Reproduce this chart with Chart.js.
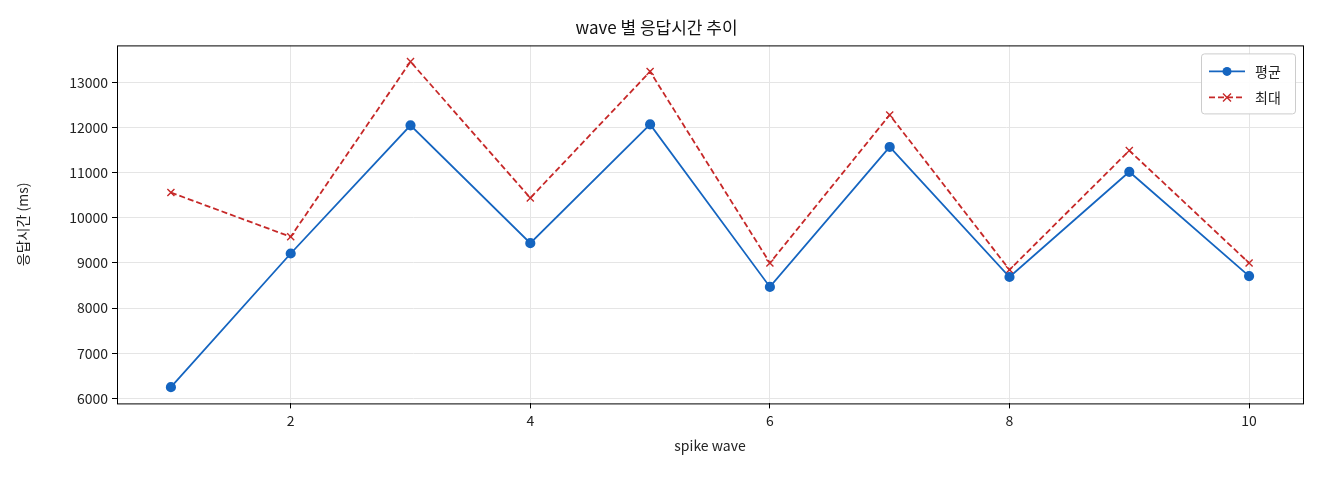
<!DOCTYPE html>
<html>
<head>
<meta charset="utf-8">
<script src="https://cdn.jsdelivr.net/npm/chart.js@4"></script>
<style>
  body { margin: 0; background: #fff; }
  #wrap { width: 1320px; height: 480px; }
</style>
</head>
<body>
<div id="wrap"><canvas id="c"></canvas></div>
<script>
const waves = [1, 2, 3, 4, 5, 6, 7, 8, 9, 10];
const avgTimes = [6250, 9210, 12050, 9440, 12070, 8470, 11570, 8690, 11020, 8710];
const maxTimes = [10560, 9580, 13460, 10440, 13240, 9000, 12280, 8850, 11490, 9000];
const xTicks = [2, 4, 6, 8, 10];
const yTicks = [6000, 7000, 8000, 9000, 10000, 11000, 12000, 13000];

const FONT = "'Noto Sans CJK KR', 'DejaVu Sans', sans-serif";
Chart.defaults.font.family = FONT;
Chart.defaults.color = '#222';

// legend box inside plot, top right
const boxLegend = {
    id: 'boxLegend',
    afterDraw(chart) {
        const ctx = chart.ctx, a = chart.chartArea;
        const w = 94, h = 60, x = a.right - w - 8, y = a.top + 8;
        ctx.save();
        ctx.fillStyle = 'rgba(255,255,255,0.9)';
        ctx.strokeStyle = '#ccc';
        ctx.lineWidth = 1;
        ctx.beginPath();
        ctx.roundRect(x + 0.5, y + 0.5, w, h, 3);
        ctx.fill(); ctx.stroke();
        chart.data.datasets.forEach((ds, i) => {
            const cy = y + 18 + i * 26;
            ctx.strokeStyle = ds.borderColor;
            ctx.lineWidth = 1.8;
            ctx.setLineDash(ds.borderDash || []);
            ctx.beginPath(); ctx.moveTo(x + 8, cy); ctx.lineTo(x + 44, cy); ctx.stroke();
            ctx.setLineDash([]);
            if (ds.pointStyle === 'circle') {
                ctx.fillStyle = ds.borderColor;
                ctx.beginPath(); ctx.arc(x + 26, cy, 4.5, 0, Math.PI * 2); ctx.fill();
            } else {
                ctx.lineWidth = 1.4;
                ctx.beginPath();
                ctx.moveTo(x + 22, cy - 4); ctx.lineTo(x + 30, cy + 4);
                ctx.moveTo(x + 30, cy - 4); ctx.lineTo(x + 22, cy + 4);
                ctx.stroke();
            }
            ctx.fillStyle = '#222';
            ctx.font = '14px ' + FONT;
            ctx.textBaseline = 'middle';
            ctx.fillText(ds.label, x + 54, cy);
        });
        ctx.restore();
    }
};

const frame = {
    id: 'frame',
    afterDraw(chart) {
        const ctx = chart.ctx, a = chart.chartArea;
        ctx.save();
        ctx.strokeStyle = '#000';
        ctx.lineWidth = 1;
        ctx.strokeRect(a.left + 0.5, a.top + 0.5, a.right - a.left, a.bottom - a.top);
        ctx.restore();
    }
};

new Chart(document.getElementById('c'), {
    type: 'line',
    data: {
        datasets: [
            {
                label: '평균',
                data: waves.map((w, i) => ({ x: w, y: avgTimes[i] })),
                borderColor: '#1565c0',
                backgroundColor: '#1565c0',
                borderWidth: 1.8,
                pointStyle: 'circle',
                pointRadius: 4.2,
                pointHoverRadius: 4.2
            },
            {
                label: '최대',
                data: waves.map((w, i) => ({ x: w, y: maxTimes[i] })),
                borderColor: '#c62828',
                backgroundColor: '#c62828',
                borderWidth: 1.8,
                borderDash: [6, 3],
                pointStyle: 'cross',
                rotation: 45,
                pointRadius: 5,
                pointBorderWidth: 1.4,
                pointHoverRadius: 5
            }
        ]
    },
    options: {
        responsive: true,
        maintainAspectRatio: false,
        animation: false,
        layout: { padding: { left: 10, right: 17, top: 3, bottom: 22 } },
        plugins: {
            legend: { display: false },
            tooltip: { enabled: false },
            title: {
                display: true,
                text: 'wave 별 응답시간 추이',
                font: { size: 17, weight: 'normal' },
                color: '#111',
                padding: { top: 14, bottom: 8 }
            }
        },
        scales: {
            x: {
                type: 'linear',
                min: 0.55,
                max: 10.45,
                afterBuildTicks: s => { s.ticks = xTicks.map(v => ({ value: v })); },
                grid: { color: '#e5e5e5', tickColor: '#000', tickLength: 5 },
                border: { display: false },
                ticks: { font: { size: 14 }, color: '#222', padding: 4, callback: v => String(v) },
                title: { display: true, text: 'spike wave', font: { size: 14 }, color: '#222', padding: { top: 4 } }
            },
            y: {
                min: 5890,
                max: 13820,
                afterBuildTicks: s => { s.ticks = yTicks.map(v => ({ value: v })); },
                afterFit: s => { s.width = 107; },
                grid: { color: '#e5e5e5', tickColor: '#000', tickLength: 5 },
                border: { display: false },
                ticks: { font: { size: 14 }, color: '#222', padding: 4, callback: v => String(v) },
                title: { display: true, text: '응답시간 (ms)', font: { size: 14 }, color: '#222', padding: { bottom: 4 } }
            }
        }
    },
    plugins: [frame, boxLegend]
});
</script>
</body>
</html>
